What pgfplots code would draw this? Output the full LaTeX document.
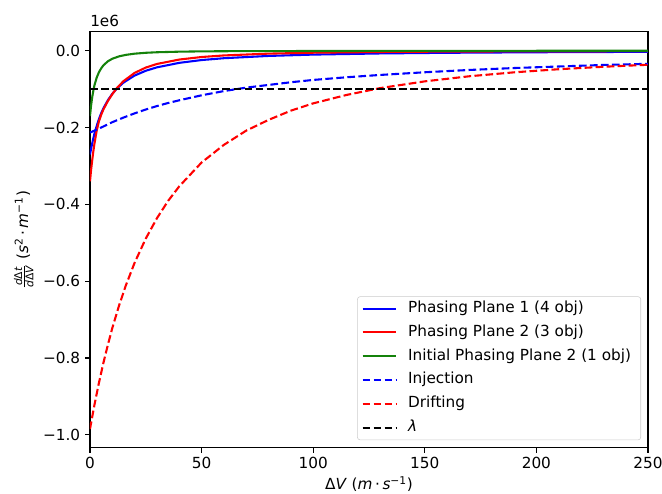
\documentclass[border=0pt]{standalone}
\usepackage{amsmath}
\usepackage{fontspec}
\setmainfont{DejaVu Sans}
\usepackage{pgfplots}
\pgfplotsset{compat=1.18}

\definecolor{mplgreen}{RGB}{20,130,10}

\begin{document}
\begin{tikzpicture}
\begin{axis}[
    name=ax,
    scale only axis,
    width=401.8pt, height=299.5pt,
    xmin=0, xmax=250,
    ymin=-1.034, ymax=0.049,
    xtick={0,50,100,150,200,250},
    xticklabels={0,50,100,150,200,250},
    ytick={-1,-0.8,-0.6,-0.4,-0.2,0},
    yticklabels={−1.0,−0.8,−0.6,−0.4,−0.2,0.0},
    xtick pos=bottom, ytick pos=left,
    tick align=outside,
    major tick length=3.5pt,
    every tick/.style={black, line width=0.8pt},
    axis line style={line width=0.8pt},
    tick label style={font=\fontsize{11}{13}\selectfont},
    label style={font=\fontsize{11}{13}\selectfont},
    xlabel={Δ\textit{V} (\textit{m}\,·\,\textit{s}\textsuperscript{−1})},
    ylabel={$\frac{\textit{d}\text{Δ}\textit{t}}{\textit{d}\text{Δ}\textit{V}}$ (\textit{s}\textsuperscript{2}\,·\,\textit{m}\textsuperscript{−1})},
    xlabel style={yshift=1.5pt},
    legend cell align=left,
    legend image code/.code={\draw[#1] (0pt,0pt) -- (24pt,0pt); \path (28pt,0pt);},
    legend style={
        at={(rel axis cs:1,0)}, anchor=south east,
        xshift=-5pt, yshift=5.5pt,
        draw=black!20, rounded corners=2pt,
        fill=white, fill opacity=0.8, text opacity=1,
        font=\fontsize{11}{13}\selectfont,
        inner xsep=3pt, inner ysep=0pt,
        nodes={text height=8pt, text depth=2.6pt, inner ysep=3.3pt, inner xsep=4pt},
    },
    after end axis/.code={
        \node[anchor=south west, inner sep=0pt, font=\fontsize{11}{13}\selectfont]
            at (rel axis cs:0,1) [yshift=3.5pt] {1e6};
    },
]
\addplot[blue, line width=1.5pt] coordinates {
    (0,-0.270) (0.5,-0.255) (1,-0.241) (1.5,-0.228) (2,-0.216) (3,-0.196)
    (4,-0.178) (5,-0.163) (6,-0.150) (8,-0.129) (10,-0.112) (12,-0.0986)
    (15,-0.0829) (20,-0.0645) (25,-0.0521) (30,-0.0432) (40,-0.0315)
    (50,-0.0242) (60,-0.0194) (80,-0.0135) (100,-0.0100) (130,-0.0070)
    (160,-0.0053) (200,-0.0039) (250,-0.0028)
};
\addlegendentry{Phasing Plane 1 (4 obj)}
\addplot[red, line width=1.5pt] coordinates {
    (0,-0.340) (0.5,-0.310) (1,-0.285) (1.5,-0.262) (2,-0.242) (3,-0.208)
    (4,-0.184) (5,-0.167) (6,-0.153) (8,-0.131) (10,-0.113) (12,-0.0975)
    (15,-0.0792) (20,-0.0576) (25,-0.0438) (30,-0.0344) (40,-0.0229)
    (50,-0.0163) (60,-0.0122) (80,-0.0075) (100,-0.0051) (130,-0.0032)
    (160,-0.0022) (200,-0.0015) (250,-0.0010)
};
\addlegendentry{Phasing Plane 2 (3 obj)}
\addplot[mplgreen, line width=1.5pt] coordinates {
    (0,-0.170) (0.5,-0.142) (1,-0.121) (1.5,-0.104) (2,-0.090) (3,-0.070)
    (4,-0.056) (5,-0.046) (6,-0.038) (8,-0.0275) (10,-0.0208) (13,-0.0146)
    (16,-0.0108) (20,-0.0076) (25,-0.0053) (30,-0.0039) (40,-0.0024)
    (50,-0.0016) (70,-0.0009) (100,-0.0007) (150,-0.0003) (200,-0.0001)
    (250,-0.0001)
};
\addlegendentry{Initial Phasing Plane 2 (1 obj)}
\addplot[blue, line width=1.5pt, dash pattern=on 5.55pt off 2.4pt] coordinates {
    (0,-0.213) (2,-0.208) (5,-0.200) (10,-0.186) (15,-0.174) (20,-0.163)
    (25,-0.153) (30,-0.144) (35,-0.136) (40,-0.129) (50,-0.116) (60,-0.105)
    (70,-0.096) (80,-0.089) (90,-0.082) (100,-0.076) (115,-0.069)
    (130,-0.063) (150,-0.056) (170,-0.050) (190,-0.045) (210,-0.041)
    (230,-0.037) (250,-0.034)
};
\addlegendentry{Injection}
\addplot[red, line width=1.5pt, dash pattern=on 5.55pt off 2.4pt] coordinates {
    (0,-0.985) (2,-0.922) (4,-0.865) (6,-0.813) (8,-0.766) (10,-0.722)
    (13,-0.664) (16,-0.612) (20,-0.552) (25,-0.489) (30,-0.436) (35,-0.391)
    (40,-0.353) (50,-0.291) (60,-0.245) (70,-0.208) (80,-0.180) (90,-0.156)
    (100,-0.137) (115,-0.115) (130,-0.0973) (150,-0.0797) (170,-0.0664)
    (190,-0.0562) (210,-0.0481) (230,-0.0417) (250,-0.0365)
};
\addlegendentry{Drifting}
\addplot[black, line width=1.5pt, dash pattern=on 5.55pt off 2.4pt] coordinates {
    (0,-0.1) (250,-0.1)
};
\addlegendentry{\textit{λ}}
\end{axis}
\pgfresetboundingbox
\useasboundingbox ([xshift=-64.8pt,yshift=-33.1pt]ax.south west)
    rectangle ([xshift=10.1pt,yshift=23pt]ax.north east);
\end{tikzpicture}
\end{document}
